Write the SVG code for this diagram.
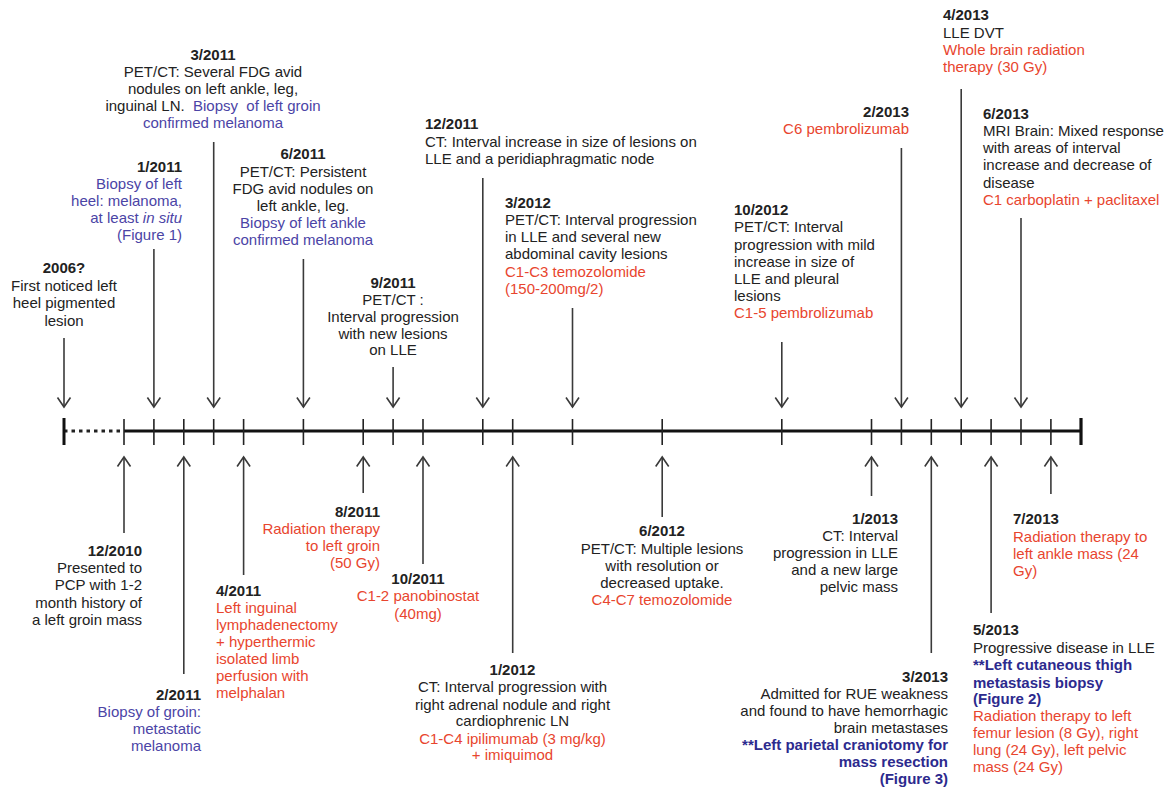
<svg xmlns="http://www.w3.org/2000/svg" width="1175" height="789" viewBox="0 0 1175 789">
<defs>
<style>
.t{font-family:"Liberation Sans",Arial,Helvetica,sans-serif;font-size:15px;fill:#222}
.b{font-weight:bold}
.bl{fill:#4b44a6}
.r{fill:#e8452e}
.bb{fill:#2c2a8e;font-weight:bold}
.m{text-anchor:middle}
.e{text-anchor:end}
.ar{stroke:#3a3a3a;stroke-width:1.6;fill:none;marker-end:url(#ah)}
.tk{stroke:#222;stroke-width:1.6}
</style>
<marker id="ah" viewBox="-11 -8 13 16" refX="0" refY="0" markerWidth="13" markerHeight="16" markerUnits="userSpaceOnUse" orient="auto">
<path d="M-9.5,-6.5 L0,0 L-9.5,6.5" fill="none" stroke="#3a3a3a" stroke-width="1.6"/>
</marker>
</defs>
<rect width="1175" height="789" fill="#fff"/>

<g id="timeline">
<line x1="64" y1="431" x2="124" y2="431" stroke="#222" stroke-width="3" stroke-dasharray="3.5 4"/>
<line x1="124" y1="431" x2="1081" y2="431" stroke="#111" stroke-width="3"/>
<line x1="64" y1="418" x2="64" y2="445" stroke="#111" stroke-width="3"/>
<line x1="1081" y1="418" x2="1081" y2="445" stroke="#111" stroke-width="3.2"/>
<g class="tk">
<line x1="124" y1="419" x2="124" y2="445"/>
<line x1="153.9" y1="419" x2="153.9" y2="445"/>
<line x1="183.8" y1="419" x2="183.8" y2="445"/>
<line x1="213.7" y1="419" x2="213.7" y2="445"/>
<line x1="243.6" y1="419" x2="243.6" y2="445"/>
<line x1="303.4" y1="419" x2="303.4" y2="445"/>
<line x1="363.2" y1="419" x2="363.2" y2="445"/>
<line x1="393.1" y1="419" x2="393.1" y2="445"/>
<line x1="423" y1="419" x2="423" y2="445"/>
<line x1="482.8" y1="419" x2="482.8" y2="445"/>
<line x1="512.7" y1="419" x2="512.7" y2="445"/>
<line x1="572.5" y1="419" x2="572.5" y2="445"/>
<line x1="662.2" y1="419" x2="662.2" y2="445"/>
<line x1="781.8" y1="419" x2="781.8" y2="445"/>
<line x1="871.5" y1="419" x2="871.5" y2="445"/>
<line x1="901.4" y1="419" x2="901.4" y2="445"/>
<line x1="931.3" y1="419" x2="931.3" y2="445"/>
<line x1="961.2" y1="419" x2="961.2" y2="445"/>
<line x1="991.1" y1="419" x2="991.1" y2="445"/>
<line x1="1021" y1="419" x2="1021" y2="445"/>
<line x1="1050.9" y1="419" x2="1050.9" y2="445"/>
</g>
</g>

<g id="connectors">
<line class="ar" x1="64" y1="338" x2="64" y2="407"/>
<line class="ar" x1="153.9" y1="249" x2="153.9" y2="407"/>
<line class="ar" x1="213.7" y1="142" x2="213.7" y2="407"/>
<line class="ar" x1="303.4" y1="259" x2="303.4" y2="407"/>
<line class="ar" x1="393.1" y1="367" x2="393.1" y2="407"/>
<line class="ar" x1="482.8" y1="178" x2="482.8" y2="407"/>
<line class="ar" x1="572.5" y1="308" x2="572.5" y2="407"/>
<line class="ar" x1="781.8" y1="342" x2="781.8" y2="407"/>
<line class="ar" x1="901.4" y1="148" x2="901.4" y2="407"/>
<line class="ar" x1="961.2" y1="89" x2="961.2" y2="407"/>
<line class="ar" x1="1021" y1="218" x2="1021" y2="407"/>
<line class="ar" x1="124" y1="533" x2="124" y2="457"/>
<line class="ar" x1="183.8" y1="674" x2="183.8" y2="457"/>
<line class="ar" x1="243.6" y1="575" x2="243.6" y2="457"/>
<line class="ar" x1="363.2" y1="493" x2="363.2" y2="457"/>
<line class="ar" x1="423" y1="564" x2="423" y2="457"/>
<line class="ar" x1="512.7" y1="653" x2="512.7" y2="457"/>
<line class="ar" x1="662.2" y1="517" x2="662.2" y2="457"/>
<line class="ar" x1="871.5" y1="496" x2="871.5" y2="457"/>
<line class="ar" x1="931.3" y1="653" x2="931.3" y2="457"/>
<line class="ar" x1="991.1" y1="613" x2="991.1" y2="457"/>
<line class="ar" x1="1050.9" y1="494" x2="1050.9" y2="457"/>
</g>

<g id="n2006">
<text class="t m"><tspan class="b" x="64" y="273">2006?</tspan><tspan x="64" y="291">First noticed left</tspan><tspan x="64" y="308">heel pigmented</tspan><tspan x="64" y="326">lesion</tspan></text>
</g>

<g id="n2011-01">
<text class="t e"><tspan class="b" x="182" y="172">1/2011</tspan><tspan class="bl" x="182" y="189">Biopsy of left</tspan><tspan class="bl" x="182" y="206">heel: melanoma,</tspan><tspan class="bl" x="182" y="223">at least <tspan font-style="italic">in situ</tspan></tspan><tspan class="bl" x="182" y="240">(Figure 1)</tspan></text>
</g>

<g id="n2011-03">
<text class="t m" xml:space="preserve"><tspan class="b" x="213" y="60">3/2011</tspan><tspan x="213" y="77">PET/CT: Several FDG avid</tspan><tspan x="213" y="94">nodules on left ankle, leg,</tspan><tspan x="213" y="111">inguinal LN.  <tspan class="bl">Biopsy  of left groin</tspan></tspan><tspan class="bl" x="213" y="128">confirmed melanoma</tspan></text>
</g>

<g id="n2011-06">
<text class="t m"><tspan class="b" x="303" y="159">6/2011</tspan><tspan x="303" y="176.5">PET/CT: Persistent</tspan><tspan x="303" y="194">FDG avid nodules on</tspan><tspan x="303" y="211">left ankle, leg.</tspan><tspan class="bl" x="303" y="228">Biopsy of left ankle</tspan><tspan class="bl" x="303" y="244.5">confirmed melanoma</tspan></text>
</g>

<g id="n2011-09">
<text class="t m"><tspan class="b" x="393" y="288">9/2011</tspan><tspan x="393" y="305">PET/CT :</tspan><tspan x="393" y="321.5">Interval progression</tspan><tspan x="393" y="338.5">with new lesions</tspan><tspan x="393" y="355">on LLE</tspan></text>
</g>

<g id="n2011-12">
<text class="t"><tspan class="b" x="425" y="129">12/2011</tspan><tspan x="425" y="146.5">CT: Interval increase in size of lesions on</tspan><tspan x="425" y="164">LLE and a peridiaphragmatic node</tspan></text>
</g>

<g id="n2012-03">
<text class="t"><tspan class="b" x="505" y="208">3/2012</tspan><tspan x="505" y="225">PET/CT: Interval progression</tspan><tspan x="505" y="242">in LLE and several new</tspan><tspan x="505" y="259">abdominal cavity lesions</tspan><tspan class="r" x="505" y="277">C1-C3 temozolomide</tspan><tspan class="r" x="505" y="294">(150-200mg/2)</tspan></text>
</g>

<g id="n2012-10">
<text class="t"><tspan class="b" x="734" y="215">10/2012</tspan><tspan x="734" y="232">PET/CT: Interval</tspan><tspan x="734" y="249.5">progression with mild</tspan><tspan x="734" y="267">increase in size of</tspan><tspan x="734" y="284">LLE and pleural</tspan><tspan x="734" y="301">lesions</tspan><tspan class="r" x="734" y="317.5">C1-5 pembrolizumab</tspan></text>
</g>

<g id="n2013-02">
<text class="t e"><tspan class="b" x="909" y="117">2/2013</tspan><tspan class="r" x="909" y="134">C6 pembrolizumab</tspan></text>
</g>

<g id="n2013-04">
<text class="t"><tspan class="b" x="943" y="20">4/2013</tspan><tspan x="943" y="37.5">LLE DVT</tspan><tspan class="r" x="943" y="54.5">Whole brain radiation</tspan><tspan class="r" x="943" y="72">therapy (30 Gy)</tspan></text>
</g>

<g id="n2013-06">
<text class="t"><tspan class="b" x="983" y="119">6/2013</tspan><tspan x="983" y="136">MRI Brain: Mixed response</tspan><tspan x="983" y="153">with areas of interval</tspan><tspan x="983" y="170">increase and decrease of</tspan><tspan x="983" y="187.5">disease</tspan><tspan class="r" x="983" y="204.5">C1 carboplatin + paclitaxel</tspan></text>
</g>

<g id="n2010-12">
<text class="t e"><tspan class="b" x="142" y="556">12/2010</tspan><tspan x="142" y="573">Presented to</tspan><tspan x="142" y="590">PCP with 1-2</tspan><tspan x="142" y="607.5">month history of</tspan><tspan x="142" y="624.5">a left groin mass</tspan></text>
</g>

<g id="n2011-02">
<text class="t e"><tspan class="b" x="201" y="699.5">2/2011</tspan><tspan class="bl" x="201" y="717">Biopsy of groin:</tspan><tspan class="bl" x="201" y="734">metastatic</tspan><tspan class="bl" x="201" y="751">melanoma</tspan></text>
</g>

<g id="n2011-04">
<text class="t"><tspan class="b" x="216" y="596">4/2011</tspan><tspan class="r" x="216" y="613">Left inguinal</tspan><tspan class="r" x="216" y="629.5">lymphadenectomy</tspan><tspan class="r" x="216" y="647">+ hyperthermic</tspan><tspan class="r" x="216" y="663.5">isolated limb</tspan><tspan class="r" x="216" y="681">perfusion with</tspan><tspan class="r" x="216" y="698">melphalan</tspan></text>
</g>

<g id="n2011-08">
<text class="t e"><tspan class="b" x="380" y="517">8/2011</tspan><tspan class="r" x="380" y="533.5">Radiation therapy</tspan><tspan class="r" x="380" y="551">to left groin</tspan><tspan class="r" x="380" y="568">(50 Gy)</tspan></text>
</g>

<g id="n2011-10">
<text class="t m"><tspan class="b" x="418" y="584">10/2011</tspan><tspan class="r" x="418" y="601">C1-2 panobinostat</tspan><tspan class="r" x="418" y="618.5">(40mg)</tspan></text>
</g>

<g id="n2012-01">
<text class="t m"><tspan class="b" x="512.5" y="674.5">1/2012</tspan><tspan x="512.5" y="692">CT: Interval progression with</tspan><tspan x="512.5" y="709.5">right adrenal nodule and right</tspan><tspan x="512.5" y="726">cardiophrenic LN</tspan><tspan class="r" x="512.5" y="743.5">C1-C4 ipilimumab (3 mg/kg)</tspan><tspan class="r" x="512.5" y="760">+ imiquimod</tspan></text>
</g>

<g id="n2012-06">
<text class="t m"><tspan class="b" x="662" y="536">6/2012</tspan><tspan x="662" y="553.5">PET/CT: Multiple lesions</tspan><tspan x="662" y="571">with resolution or</tspan><tspan x="662" y="588">decreased uptake.</tspan><tspan class="r" x="662" y="605">C4-C7 temozolomide</tspan></text>
</g>

<g id="n2013-01">
<text class="t e"><tspan class="b" x="898" y="523.5">1/2013</tspan><tspan x="898" y="541">CT: Interval</tspan><tspan x="898" y="558">progression in LLE</tspan><tspan x="898" y="575">and a new large</tspan><tspan x="898" y="592">pelvic mass</tspan></text>
</g>

<g id="n2013-03">
<text class="t e"><tspan class="b" x="948" y="682">3/2013</tspan><tspan x="948" y="698.5">Admitted for RUE weakness</tspan><tspan x="948" y="716">and found to have hemorrhagic</tspan><tspan x="948" y="733">brain metastases</tspan><tspan class="bb" x="948" y="749.5">**Left parietal craniotomy for</tspan><tspan class="bb" x="948" y="767">mass resection</tspan><tspan class="bb" x="948" y="784">(Figure 3)</tspan></text>
</g>

<g id="n2013-05">
<text class="t"><tspan class="b" x="973" y="635">5/2013</tspan><tspan x="973" y="653">Progressive disease in LLE</tspan><tspan class="bb" x="973" y="670">**Left cutaneous thigh</tspan><tspan class="bb" x="973" y="687.5">metastasis biopsy</tspan><tspan class="bb" x="973" y="704">(Figure 2)</tspan><tspan class="r" x="973" y="721">Radiation therapy to left</tspan><tspan class="r" x="973" y="738">femur lesion (8 Gy), right</tspan><tspan class="r" x="973" y="755">lung (24 Gy), left pelvic</tspan><tspan class="r" x="973" y="772">mass (24 Gy)</tspan></text>
</g>

<g id="n2013-07">
<text class="t"><tspan class="b" x="1013" y="524">7/2013</tspan><tspan class="r" x="1013" y="542">Radiation therapy to</tspan><tspan class="r" x="1013" y="558.5">left ankle mass (24</tspan><tspan class="r" x="1013" y="576">Gy)</tspan></text>
</g>
</svg>
